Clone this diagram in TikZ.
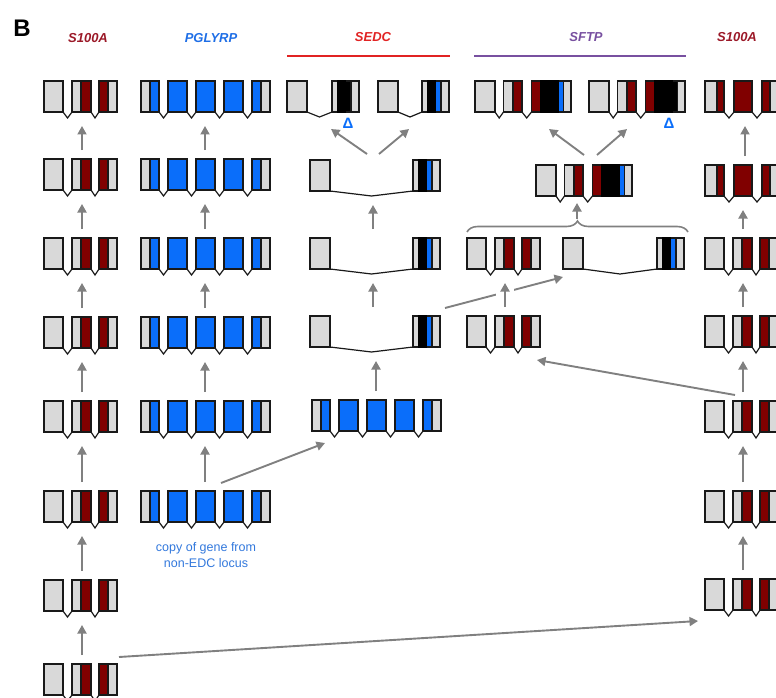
\documentclass[tikz,border=0pt]{standalone}
\usepackage{fontspec}
\setmainfont{Liberation Sans}
\usetikzlibrary{arrows.meta,decorations.pathreplacing}
\definecolor{exgray}{RGB}{217,217,217}
\definecolor{dred}{RGB}{128,0,0}
\definecolor{gblue}{RGB}{10,110,250}
\definecolor{arrgray}{RGB}{128,128,128}
\definecolor{hred}{RGB}{155,25,40}
\definecolor{hblue}{RGB}{30,110,230}
\definecolor{sedcred}{RGB}{225,35,35}
\definecolor{sftppurp}{RGB}{120,80,160}
\definecolor{noteblue}{RGB}{50,120,220}

\begin{document}
\begin{tikzpicture}[
  x=1pt, y=-1pt,
  exon/.style={draw=black!90,line width=1.2pt,fill=exgray},
  intron/.style={draw=black!90,line width=1.2pt},
  garrow/.style={-{Triangle[length=8.5pt,width=9pt]},draw=arrgray,line width=1.9pt},
  hdr/.style={font=\fontsize{13}{15}\selectfont\bfseries\itshape},
  notetxt/.style={font=\fontsize{12.5}{16}\selectfont,text=noteblue,align=center},
  dtri/.style={font=\fontsize{15}{17}\selectfont\bfseries,text=gblue,inner sep=0pt},
  grpbrace/.style={decorate,decoration={brace,amplitude=11pt},draw=arrgray,line width=1.6pt},
  % S100A type genes
  s100/.pic={
    \filldraw[exon] (0,0) rectangle (19,31);
    \filldraw[exon] (28,0) rectangle (47,31);
    \filldraw[exon,fill=dred] (37,0) rectangle (47,31);
    \filldraw[exon] (55,0) rectangle (73,31);
    \filldraw[exon,fill=dred] (55,0) rectangle (64,31);
    \draw[intron] (19,31) -- (23.5,37) -- (28,31) (47,31) -- (51,37) -- (55,31);
    \coordinate (-n) at (38,-9);
    \coordinate (-s) at (38,45);
  },
  s100r/.pic={
    \filldraw[exon] (0,0) rectangle (19,31);
    \filldraw[exon,fill=dred] (12,0) rectangle (19,31);
    \filldraw[exon,fill=dred] (29,0) rectangle (47,31);
    \filldraw[exon] (57,0) rectangle (75,31);
    \filldraw[exon,fill=dred] (57,0) rectangle (65,31);
    \draw[intron] (19,31) -- (24,37) -- (29,31) (47,31) -- (52,37) -- (57,31);
    \coordinate (-n) at (40,-9);
    \coordinate (-s) at (40,45);
  },
  % PGLYRP type gene
  pglyrp/.pic={
    \filldraw[exon] (0,0) rectangle (18,31);
    \filldraw[exon,fill=gblue] (9,0) rectangle (18,31);
    \foreach \a in {27,55,83} \filldraw[exon,fill=gblue] (\a,0) rectangle (\a+19,31);
    \filldraw[exon] (111,0) rectangle (129,31);
    \filldraw[exon,fill=gblue] (111,0) rectangle (120,31);
    \foreach \a in {18,46,74,102} \draw[intron] (\a,31) -- (\a+4.5,37) -- (\a+9,31);
    \coordinate (-n) at (64,-9);
    \coordinate (-s) at (64,45);
  },
  % SEDC type gene: exon 2 start, colour of band
  pics/sedc/.style 2 args={code={
    \filldraw[exon] (0,0) rectangle (20,31);
    \filldraw[exon] (#1,0) rectangle (#1+27,31);
    \filldraw[exon,fill=#2] (#1+13,0) rectangle (#1+19,31);
    \filldraw[exon,fill=black,draw=black] (#1+6,0) rectangle (#1+13,31);
    \draw[intron] (20,31) -- ({(20+#1)/2},36) -- (#1,31);
    \coordinate (-n) at (63,-9);
    \coordinate (-s) at (63,45);
  }},
  % SFTP type gene
  sftp/.pic={
    \filldraw[exon] (0,0) rectangle (20,31);
    \filldraw[exon] (28.5,0) rectangle (47,31);
    \filldraw[exon,fill=dred] (38,0) rectangle (47,31);
    \filldraw[exon] (56.5,0) rectangle (96,31);
    \filldraw[exon,fill=dred] (56.5,0) rectangle (65.5,31);
    \filldraw[exon,fill=#1] (83,0) rectangle (88.5,31);
    \filldraw[exon,fill=black,draw=black] (65.5,0) rectangle (83,31);
    \draw[intron] (20,31) -- (24.2,37) -- (28.5,31) (47,31) -- (51.7,37) -- (56.5,31);
  }
]
\useasboundingbox (0,0) rectangle (776,698);
\clip (0,0) rectangle (776,698);

% titles
\node[font=\fontsize{24}{28}\selectfont\bfseries] (panel) at (22,28) {B};
\node[hdr,text=hred] (hA) at (88,38) {S100A};
\node[hdr,text=hblue] (hP) at (211,38) {PGLYRP};
\node[hdr,text=sedcred] (hE) at (373,37) {SEDC};
\node[hdr,text=sftppurp] (hF) at (586,37) {SFTP};
\node[hdr,text=hred] (hA2) at (737,37) {S100A};
\draw[sedcred,line width=1.6pt] (287,56) -- (450,56);
\draw[sftppurp,line width=1.6pt] (474,56) -- (686,56);

% left S100A column
\foreach \n/\t in {1/81,2/159,3/238,4/317,5/401,6/491,7/580,8/664}
  \pic (L\n) at (44,\t) {s100};

% PGLYRP column
\foreach \n/\t in {1/81,2/159,3/238,4/317,5/401,6/491}
  \pic (P\n) at (141,\t) {pglyrp};
\node[notetxt] (copy) at (206,555) {copy of gene from\\non-EDC locus};

% SEDC column
\pic (E1a) at (287,81) {sedc={45}{black}};
\pic (E1b) at (378,81) {sedc={44}{gblue}};
\pic (E2) at (310,160) {sedc={103}{gblue}};
\pic (E3) at (310,238) {sedc={103}{gblue}};
\pic (E4) at (310,316) {sedc={103}{gblue}};
\pic (E5) at (312,400) {pglyrp};
\node[dtri] (dE) at (348,123) {Δ};

% SFTP column
\pic (F1a) at (475,81) {sftp=gblue};
\pic (F1b) at (589,81) {sftp=black};
\pic (F2) at (536,165) {sftp=gblue};
\pic (F3a) at (467,238) {s100};
\pic (F3b) at (563,238) {sedc={94}{gblue}};
\pic (F4) at (467,316) {s100};
\node[dtri] (dF) at (669,123) {Δ};

% right S100A column
\pic (R1) at (705,81) {s100r};
\pic (R2) at (705,165) {s100r};
\foreach \n/\t in {3/238,4/316,5/401,6/491,7/579}
  \pic (R\n) at (705,\t) {s100};

% arrow ends
\coordinate (e2l) at (367,154);
\coordinate (e1a) at (331,129);
\coordinate (e2r) at (379,154);
\coordinate (e1b) at (409,129);
\coordinate (f2l) at (584,155);
\coordinate (f1a) at (549,129);
\coordinate (f2r) at (597,155);
\coordinate (f1b) at (627,129);
\coordinate (brl) at (467,232);
\coordinate (brr) at (688,232);
\coordinate (brtip) at (577,219);
\coordinate (f2in) at (577,203);
\coordinate (p6o) at (221,483);
\coordinate (e5in) at (325,443);
\coordinate (e4o) at (445,308);
\coordinate (f3in) at (563,277);
\coordinate (r5o) at (735,395);
\coordinate (f4in) at (537,360);
\coordinate (l8o) at (119,657);
\coordinate (r7in) at (698,621);

% arrows
\foreach \a/\b in {L2/L1,L3/L2,L4/L3,L5/L4,L6/L5,L7/L6,L8/L7,
                   P2/P1,P3/P2,P4/P3,P5/P4,P6/P5,E3/E2,E4/E3,E5/E4,
                   R2/R1,R3/R2,R4/R3,R5/R4,R6/R5,R7/R6}
  \draw[garrow] (\a-n) -- (\a-n |- \b-s);
\draw[garrow] (e2l) -- (e1a);
\draw[garrow] (e2r) -- (e1b);
\draw[garrow] (f2l) -- (f1a);
\draw[garrow] (f2r) -- (f1b);
\draw[grpbrace] (brl) -- (brr);
\draw[garrow] (brtip) -- (f2in);
\draw[garrow] (p6o) -- (e5in);
\draw[garrow] (e4o) -- (f3in);
\draw[white,line width=18pt] (F4-n) -- (F4-n |- F3a-s);
\draw[garrow] (F4-n) -- (F4-n |- F3a-s);
\draw[garrow] (r5o) -- (f4in);
\draw[garrow] (l8o) -- (r7in);
\end{tikzpicture}
\end{document}
